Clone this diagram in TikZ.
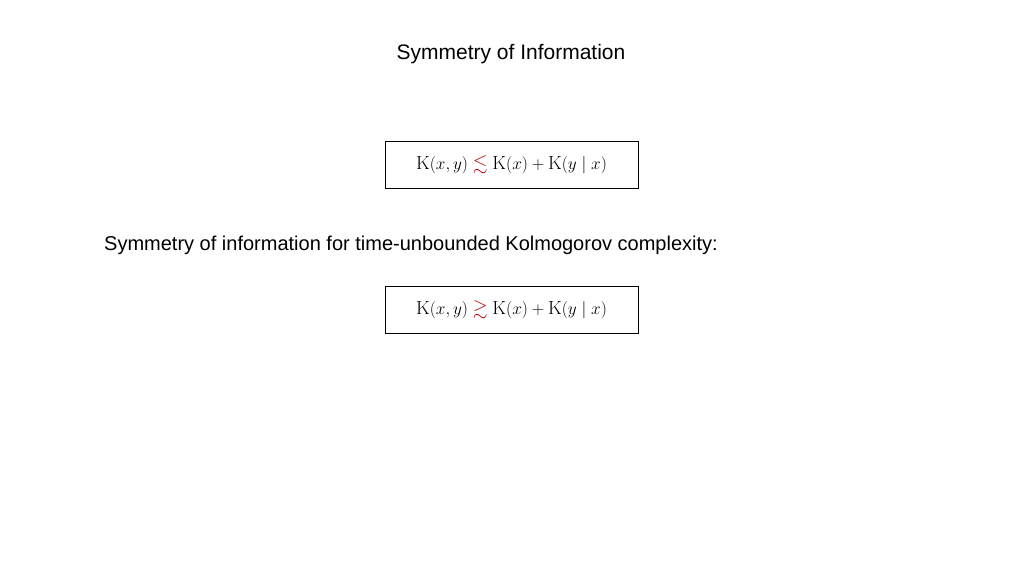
\documentclass[tikz,border=0pt]{standalone}
\usepackage{amssymb}
\usepackage{fontspec}
\newfontfamily\arial{Liberation Sans}
\definecolor{myred}{RGB}{192,0,0}
\begin{document}
\begin{tikzpicture}[x=1pt,y=-1pt,
  txt/.style={font=\arial\fontsize{20}{24}\selectfont, inner sep=0},
  eqbox/.style={draw, line width=0.6pt, minimum width=253pt, minimum height=47pt, inner sep=0, font=\fontsize{19}{23}\selectfont}]
\useasboundingbox (0,0) rectangle (1024,576);
\node[txt, font=\arial\fontsize{21}{25}\selectfont] (title) at (511,54) {Symmetry of Information};
\node[eqbox] (b1) at (511.5,164.5) {$\mathrm{K}(x,y)\mathrel{\textcolor{myred}{\lesssim}}\mathrm{K}(x)+\mathrm{K}(y\mid x)$};
\node[txt, anchor=west] (sub) at (104,245) {Symmetry of information for time-unbounded Kolmogorov complexity:};
\node[eqbox] (b2) at (511.5,309.5) {$\mathrm{K}(x,y)\mathrel{\textcolor{myred}{\gtrsim}}\mathrm{K}(x)+\mathrm{K}(y\mid x)$};
\end{tikzpicture}
\end{document}
